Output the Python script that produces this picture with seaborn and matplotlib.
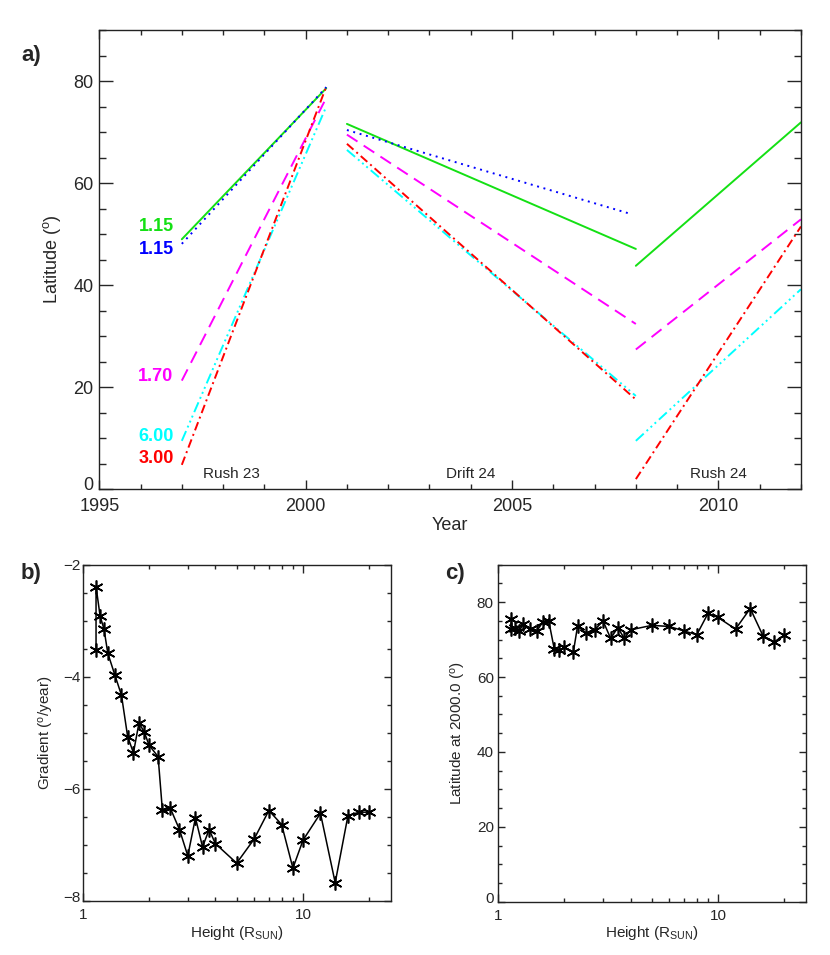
import numpy as np
import pandas as pd
import matplotlib
matplotlib.use("Agg")
import matplotlib.pyplot as plt
import matplotlib.transforms as mtransforms
import seaborn as sns
from matplotlib.ticker import MultipleLocator, LogLocator, NullFormatter, FixedLocator, FixedFormatter

# ---------------- data ----------------
# panel a: segments (start/end year, start/end latitude)
rush23_years = [1997.0, 2000.5]
drift24_years = [2001.0, 2008.0]
drift24_years_blue = [2001.0, 2007.9]
rush24_years = [2008.0, 2012.0]

green_rush23 = [49.0, 78.6]
green_drift24 = [71.6, 47.1]
green_rush24 = [43.8, 71.9]

blue_rush23 = [48.1, 78.8]
blue_drift24 = [70.4, 53.9]

magenta_rush23 = [21.3, 76.7]
magenta_drift24 = [69.5, 32.4]
magenta_rush24 = [27.4, 52.9]

cyan_rush23 = [9.5, 75.0]
cyan_drift24 = [66.5, 18.3]
cyan_rush24 = [9.5, 39.2]

red_rush23 = [4.8, 78.9]
red_drift24 = [67.7, 17.6]
red_rush24 = [2.0, 51.5]

height_labels = ["1.15", "1.15", "1.70", "6.00", "3.00"]
height_label_lat = [51.5, 46.9, 22.2, 10.4, 6.0]

phase_names = ["Rush 23", "Drift 24", "Rush 24"]
phase_x = [1998.2, 2004.0, 2010.0]

# panels b and c
heights = [1.15, 1.15, 1.2, 1.25, 1.3, 1.4, 1.5, 1.6, 1.7, 1.8, 1.9, 2.0, 2.2, 2.3, 2.5,
           2.75, 3.0, 3.25, 3.5, 3.75, 4.0, 5.0, 6.0, 7.0, 8.0, 9.0, 10.0, 12.0, 14.0, 16.0, 18.0, 20.0]
gradient = [-3.52, -2.39, -2.92, -3.15, -3.58, -3.97, -4.33, -5.07, -5.36, -4.83, -4.98, -5.22,
            -5.43, -6.38, -6.35, -6.73, -7.20, -6.52, -7.04, -6.73, -6.98, -7.33, -6.90, -6.39,
            -6.64, -7.42, -6.92, -6.44, -7.68, -6.48, -6.42, -6.42]
lat2000 = [75.4, 72.8, 73.2, 72.3, 74.1, 72.8, 72.3, 74.7, 75.0, 67.6, 67.2, 67.9, 66.7, 73.7,
           71.7, 72.6, 75.0, 70.3, 73.2, 70.3, 72.6, 73.8, 73.5, 72.3, 71.3, 77.0, 75.9, 72.8,
           78.3, 71.0, 69.4, 71.2]

# ---------------- style ----------------
sns.set_theme(style="ticks")
plt.rcParams['font.family'] = ['Liberation Sans', 'DejaVu Sans']
plt.rcParams['mathtext.fontset'] = 'custom'
plt.rcParams['mathtext.rm'] = 'Liberation Sans'
plt.rcParams['mathtext.it'] = 'Liberation Sans:italic'
plt.rcParams['axes.linewidth'] = 1.0
plt.rcParams['axes.edgecolor'] = '#222222'

GREEN = "#14e014"
BLUE = "#0000ff"
MAGENTA = "#ff00ff"
CYAN = "#00ffff"
RED = "#ff0000"

LW = 1.4
ls_dot = (0, (1.0, 2.4))
ls_dash = (0, (6.5, 3.8))
ls_dashdot = (0, (4.5, 2.0, 1.0, 2.0))
ls_dash3dot = (0, (5.5, 2.0, 1.0, 1.8, 1.0, 1.8, 1.0, 2.0))

fig = plt.figure(figsize=(8.3, 9.55), dpi=100)
axa = fig.add_axes([0.1196, 0.4876, 0.8454, 0.481])
axb = fig.add_axes([0.0996, 0.0569, 0.3711, 0.3518])
axc = fig.add_axes([0.6000, 0.0558, 0.3707, 0.3529])

series = [
    (GREEN, '-', [(rush23_years, green_rush23), (drift24_years, green_drift24), (rush24_years, green_rush24)]),
    (BLUE, ls_dot, [(rush23_years, blue_rush23), (drift24_years_blue, blue_drift24)]),
    (MAGENTA, ls_dash, [(rush23_years, magenta_rush23), (drift24_years, magenta_drift24), (rush24_years, magenta_rush24)]),
    (CYAN, ls_dash3dot, [(rush23_years, cyan_rush23), (drift24_years, cyan_drift24), (rush24_years, cyan_rush24)]),
    (RED, ls_dashdot, [(rush23_years, red_rush23), (drift24_years, red_drift24), (rush24_years, red_rush24)]),
]
for color, ls, segs in series:
    for yrs, lats in segs:
        sns.lineplot(x=yrs, y=lats, ax=axa, color=color, linestyle=ls, linewidth=LW,
                     sort=False, estimator=None)

label_colors = [GREEN, BLUE, MAGENTA, CYAN, RED]
for txt, lat, col in zip(height_labels, height_label_lat, label_colors):
    axa.text(1996.8, lat, txt, color=col, ha='right', va='center', fontsize=13, fontweight='bold')
for name, xp in zip(phase_names, phase_x):
    axa.text(xp, 3.1, name, ha='center', va='center', fontsize=11)

axa.set_xlim(1995, 2012)
axa.set_ylim(0, 90)
axa.xaxis.set_major_locator(FixedLocator([1995, 2000, 2005, 2010]))
axa.xaxis.set_minor_locator(MultipleLocator(1))
axa.yaxis.set_major_locator(FixedLocator([0, 20, 40, 60, 80]))
axa.yaxis.set_minor_locator(MultipleLocator(5))
axa.tick_params(axis='x', which='major', direction='in', length=6.5, width=1.0, top=True, labelsize=13, pad=6.5)
axa.tick_params(axis='x', which='minor', direction='in', length=3.4, width=1.0, top=True)
axa.tick_params(axis='y', which='major', direction='in', length=10, width=1.0, right=True, labelsize=13, pad=4)
axa.tick_params(axis='y', which='minor', direction='in', length=5, width=1.0, right=True)
axa.set_xlabel("Year", fontsize=13, va='center')
axa.xaxis.set_label_coords(0.5, -0.078)
axa.set_ylabel("Latitude ($^{\\rm o}$)", fontsize=13, va='center')
axa.yaxis.set_label_coords(-0.067, 0.5)

star = (6, 2, 0)
sns.lineplot(x=heights, y=gradient, ax=axb, color='black', linewidth=1.1, marker=star,
             markersize=10, markeredgewidth=1.2, markeredgecolor='black', sort=False, estimator=None)
sns.lineplot(x=heights, y=lat2000, ax=axc, color='black', linewidth=1.1, marker=star,
             markersize=10, markeredgewidth=1.2, markeredgecolor='black', sort=False, estimator=None)

for ax in (axb, axc):
    ax.set_xscale('log')
    ax.set_xlim(1, 25)
    ax.xaxis.set_major_locator(FixedLocator([1, 10]))
    ax.xaxis.set_major_formatter(FixedFormatter(['1', '10']))
    ax.xaxis.set_minor_locator(LogLocator(base=10, subs=np.arange(2, 10)))
    ax.xaxis.set_minor_formatter(NullFormatter())
    ax.tick_params(axis='x', which='major', direction='in', length=6, width=1.0, top=True, labelsize=11, pad=5)
    ax.tick_params(axis='x', which='minor', direction='in', length=3, width=1.0, top=True)
    ax.tick_params(axis='y', which='major', direction='in', length=5, width=1.0, right=True, labelsize=11)
    ax.tick_params(axis='y', which='minor', direction='in', length=3, width=1.0, right=True)
    ax.set_xlabel("Height (R$_{\\rm SUN}$)", fontsize=11, va='center')

axb.set_ylim(-8, -2)
axb.yaxis.set_major_locator(FixedLocator([-8, -6, -4, -2]))
axb.yaxis.set_minor_locator(MultipleLocator(0.5))
axb.tick_params(axis='y', which='major', pad=1.5)
axb.set_ylabel("Gradient ($^{\\rm o}$/year)", fontsize=11, va='center')
axb.yaxis.set_label_coords(-0.117, 0.5)
axb.xaxis.set_label_coords(0.5, -0.096)

axc.set_ylim(0, 90)
axc.yaxis.set_major_locator(FixedLocator([0, 20, 40, 60, 80]))
axc.yaxis.set_minor_locator(MultipleLocator(5))
axc.tick_params(axis='y', which='major', pad=3)
axc.set_ylabel("Latitude at 2000.0 ($^{\\rm o}$)", fontsize=11, va='center')
axc.yaxis.set_label_coords(-0.13, 0.5)
axc.xaxis.set_label_coords(0.5, -0.093)

# lift the lowest y tick label slightly above the corner (as in the original)
fig.canvas.draw()
for ax, dy in ((axa, 6), (axb, 4), (axc, 4)):
    lab = ax.yaxis.get_majorticklabels()[0]
    lab.set_transform(lab.get_transform() + mtransforms.ScaledTranslation(0, dy / 100, fig.dpi_scale_trans))

fig.text(21 / 830, 1 - 55 / 955, "a)", fontsize=16, fontweight='bold', ha='left', va='center')
fig.text(21 / 830, 1 - 574 / 955, "b)", fontsize=16, fontweight='bold', ha='left', va='center')
fig.text(445 / 830, 1 - 574 / 955, "c)", fontsize=16, fontweight='bold', ha='left', va='center')

fig.savefig("out.png", dpi=100)
